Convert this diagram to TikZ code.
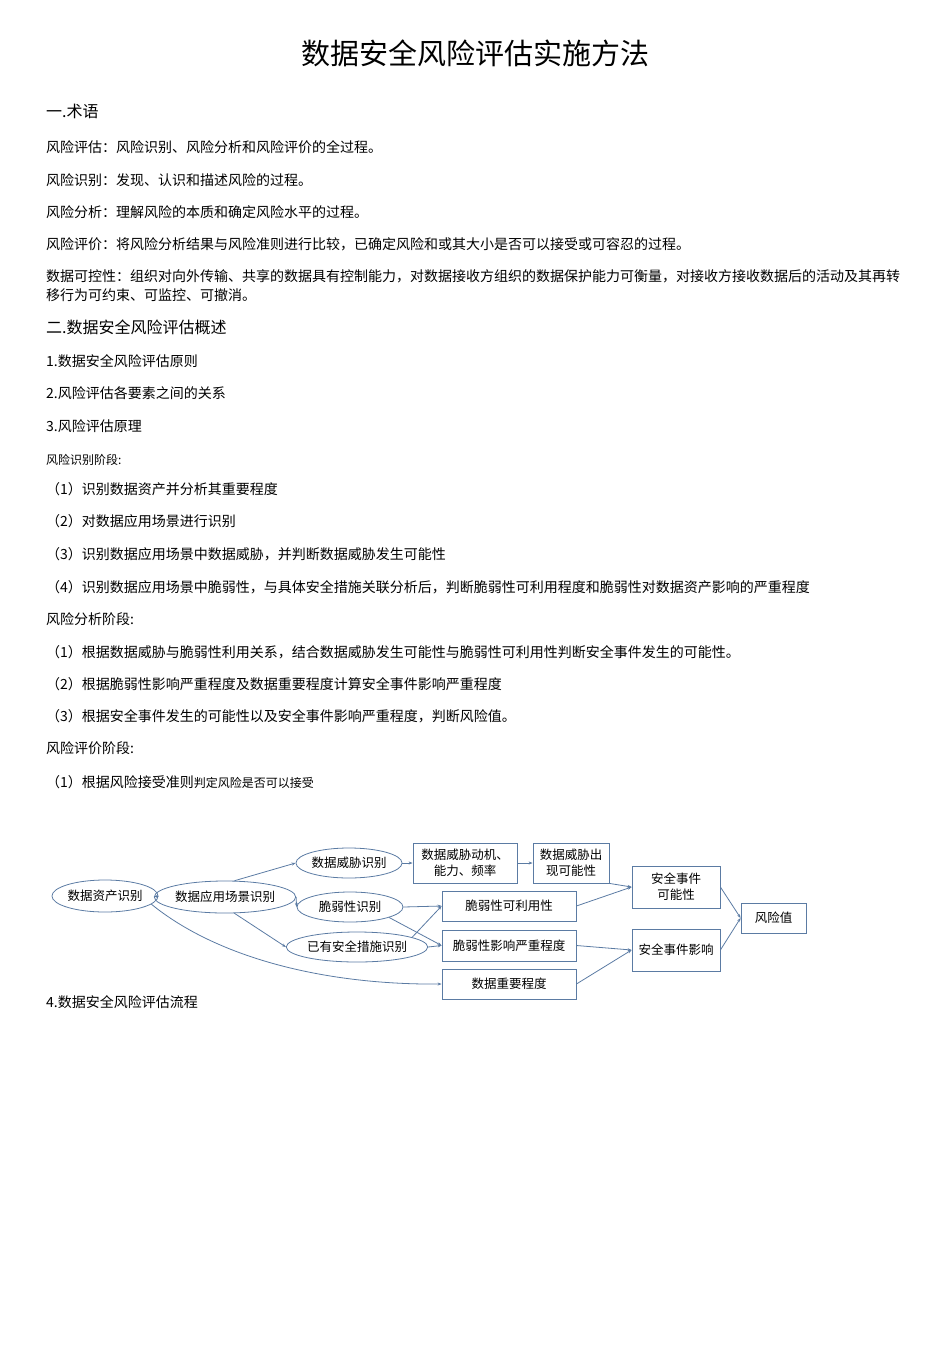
\documentclass[tikz,border=0pt]{standalone}
\usepackage{fontspec}
\setmainfont{Noto Sans CJK SC}
\usetikzlibrary{shapes.geometric,arrows.meta}
\definecolor{ln}{HTML}{5B7BA3}
\begin{document}
\begin{tikzpicture}[x=1pt,y=-1pt,
  txt/.style={anchor=west,inner sep=0,font=\fontsize{14}{16}\selectfont},
  hd/.style={anchor=west,inner sep=0,font=\fontsize{16}{18}\selectfont},
  sm/.style={anchor=west,inner sep=0,font=\fontsize{12}{14}\selectfont},
  ell/.style={ellipse,draw=ln,thick,inner sep=0,font=\fontsize{12.5}{14}\selectfont},
  bx/.style={rectangle,draw=ln,thick,inner sep=0,align=center,font=\fontsize{12.5}{16}\selectfont},
  ar/.style={draw=ln,thick,-{Stealth[length=4pt,width=3pt]}}]
\useasboundingbox (0,0) rectangle (950,1345);
\node[inner sep=0,font=\fontsize{29}{32}\selectfont] (title) at (475,53) {数据安全风险评估实施方法};
\node[hd] (h1) at (46,111) {一.术语};
\node[txt] (t1) at (46,147) {风险评估：风险识别、风险分析和风险评价的全过程。};
\node[txt] (t2) at (46,180) {风险识别：发现、认识和描述风险的过程。};
\node[txt] (t3) at (46,212) {风险分析：理解风险的本质和确定风险水平的过程。};
\node[txt] (t4) at (46,244) {风险评价：将风险分析结果与风险准则进行比较，已确定风险和或其大小是否可以接受或可容忍的过程。};
\node[txt] (t5) at (46,276) {数据可控性：组织对向外传输、共享的数据具有控制能力，对数据接收方组织的数据保护能力可衡量，对接收方接收数据后的活动及其再转};
\node[txt] (t6) at (46,295) {移行为可约束、可监控、可撤消。};
\node[hd] (h2) at (46,327) {二.数据安全风险评估概述};
\node[txt] (s1) at (46,361) {1.数据安全风险评估原则};
\node[txt] (s2) at (46,393) {2.风险评估各要素之间的关系};
\node[txt] (s3) at (46,426) {3.风险评估原理};
\node[sm] (p1) at (46,460) {风险识别阶段:};
\node[txt] (a1) at (46,489) {（1）识别数据资产并分析其重要程度};
\node[txt] (a2) at (46,521) {（2）对数据应用场景进行识别};
\node[txt] (a3) at (46,554) {（3）识别数据应用场景中数据威胁，并判断数据威胁发生可能性};
\node[txt] (a4) at (46,587) {（4）识别数据应用场景中脆弱性，与具体安全措施关联分析后，判断脆弱性可利用程度和脆弱性对数据资产影响的严重程度};
\node[txt] (p2) at (46,619) {风险分析阶段:};
\node[txt] (b1) at (46,652) {（1）根据数据威胁与脆弱性利用关系，结合数据威胁发生可能性与脆弱性可利用性判断安全事件发生的可能性。};
\node[txt] (b2) at (46,684) {（2）根据脆弱性影响严重程度及数据重要程度计算安全事件影响严重程度};
\node[txt] (b3) at (46,716) {（3）根据安全事件发生的可能性以及安全事件影响严重程度，判断风险值。};
\node[txt] (p3) at (46,748) {风险评价阶段:};
\node[txt] (c1) at (46,782) {（1）根据风险接受准则{\fontsize{12}{14}\selectfont 判定风险是否可以接受}};
\node[txt] (s4) at (46,1002) {4.数据安全风险评估流程};
% diagram
\node[ell,minimum width=106,minimum height=32] (E1) at (105,896) {数据资产识别};
\node[ell,minimum width=116,minimum height=32] (E2) at (225,897) {数据应用场景识别};
\node[ell,minimum width=106,minimum height=30] (E3) at (349,863) {数据威胁识别};
\node[ell,minimum width=106,minimum height=30] (E4) at (350,907) {脆弱性识别};
\node[ell,minimum width=124,minimum height=30] (E5) at (357,947) {已有安全措施识别};
\node[bx,minimum width=104,minimum height=40] (B1) at (465,863) {数据威胁动机、\\能力、频率};
\node[bx,minimum width=76,minimum height=40] (B2) at (571,863) {数据威胁出\\现可能性};
\node[bx,minimum width=134,minimum height=30] (B3) at (509,906) {脆弱性可利用性};
\node[bx,minimum width=134,minimum height=31] (B4) at (509,945.5) {脆弱性影响严重程度};
\node[bx,minimum width=134,minimum height=30] (B5) at (509,984) {数据重要程度};
\node[bx,minimum width=88,minimum height=42] (B6) at (676,887) {安全事件\\可能性};
\node[bx,minimum width=88,minimum height=42] (B7) at (676,950) {安全事件影响};
\node[bx,minimum width=65,minimum height=30] (B8) at (773.5,918) {风险值};
\draw[ar] (E1) -- (E2);
\draw[ar] (E2.60) -- (E3.west);
\draw[ar] (E2.east) -- (E4.west);
\draw[ar] (E2.-60) -- (E5.west);
\draw[ar] (E3) -- (B1);
\draw[ar] (B1) -- (B2);
\draw[ar] (E4.east) -- (B3.west);
\draw[ar] (E4.-15) -- (B4.west);
\draw[ar] (E5.10) -- (B3.west);
\draw[ar] (E5.east) -- (B4.west);
\draw[ar] (E1.-10) .. controls (220,960) and (330,985) .. (B5.west);
\draw[ar] (B2.south east) -- (B6.west);
\draw[ar] (B3.east) -- (B6.west);
\draw[ar] (B4.east) -- (B7.west);
\draw[ar] (B5.east) -- (B7.west);
\draw[ar] (B6.east) -- (B8.west);
\draw[ar] (B7.east) -- (B8.west);
\end{tikzpicture}
\end{document}
